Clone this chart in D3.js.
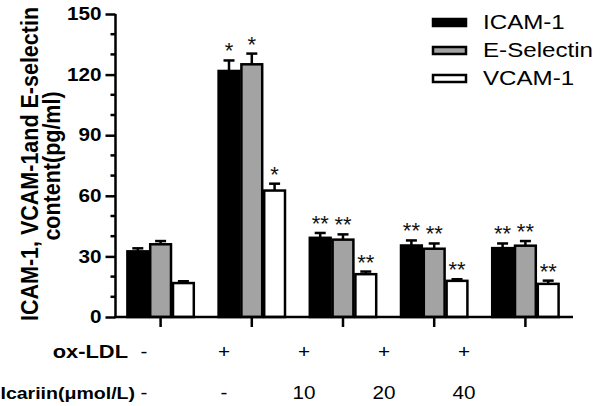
<!DOCTYPE html>
<html>
<head>
<meta charset="utf-8">
<script src="https://cdn.jsdelivr.net/npm/d3@7"></script>
<style>
  body { margin: 0; background: #fff; }
  svg { display: block; font-family: "Liberation Sans", Arial, sans-serif; }
</style>
</head>
<body>
<svg id="chart" width="600" height="406"></svg>
<script>
// values (pg/ml)
var groups = ["g1", "g2", "g3", "g4", "g5"];
var seriesNames = ["ICAM-1", "E-Selectin", "VCAM-1"];
var icam = [32.5, 121.8, 39.2, 35.4, 34.1];
var icamErr = [1.5, 5.2, 2.4, 2.5, 2.3];
var esel = [36.0, 125.1, 38.3, 33.8, 35.3];
var eselErr = [1.6, 5.3, 2.6, 2.6, 2.3];
var vcam = [16.8, 62.6, 21.2, 17.9, 16.4];
var vcamErr = [0.9, 3.4, 1.3, 0.8, 1.6];
var stars = ["", "*", "**", "**", "**"];
var oxLdl = ["-", "+", "+", "+", "+"];
var icariin = ["-", "-", "10", "20", "40"];
var yMajor = [0, 30, 60, 90, 120, 150];
var yMinor = [10, 20, 40, 50, 70, 80, 100, 110, 130, 140];

var fills = ["#000000", "#a3a3a3", "#ffffff"];
var stretch = 1.15; // the original is slightly wider than tall

var svg = d3.select("#chart");

var y = d3.scaleLinear().domain([0, 150]).range([317, 14]);
var x = d3.scaleBand().domain(groups).range([115, 571])
    .paddingInner(0.25).paddingOuter(0.125);
var xs = d3.scaleBand().domain(seriesNames).range([0, x.bandwidth()]);

var series = [
    {name: "ICAM-1", vals: icam, errs: icamErr},
    {name: "E-Selectin", vals: esel, errs: eselErr},
    {name: "VCAM-1", vals: vcam, errs: vcamErr}
];

// bars
series.forEach(function(s, si) {
    var g = svg.append("g").attr("class", "series" + si);
    var rows = groups.map(function(gr, i) {
        return {g: gr, v: s.vals[i], e: s.errs[i], star: stars[i]};
    });
    var cx = function(d) { return x(d.g) + xs(s.name) + xs.bandwidth() / 2; };

    g.selectAll("line.err").data(rows).enter().append("line")
        .attr("x1", cx).attr("x2", cx)
        .attr("y1", function(d) { return y(d.v); })
        .attr("y2", function(d) { return y(d.v + d.e); })
        .attr("stroke", "#000").attr("stroke-width", 2.5);
    g.selectAll("line.cap").data(rows).enter().append("line")
        .attr("x1", function(d) { return cx(d) - 5.5; })
        .attr("x2", function(d) { return cx(d) + 5.5; })
        .attr("y1", function(d) { return y(d.v + d.e); })
        .attr("y2", function(d) { return y(d.v + d.e); })
        .attr("stroke", "#000").attr("stroke-width", 2.5);

    g.selectAll("rect").data(rows).enter().append("rect")
        .attr("x", function(d) { return x(d.g) + xs(s.name) + 1; })
        .attr("width", xs.bandwidth() - 2)
        .attr("y", function(d) { return y(d.v); })
        .attr("height", function(d) { return y(0) - y(d.v); })
        .attr("fill", fills[si])
        .attr("stroke", "#000").attr("stroke-width", 2.5);

    g.selectAll("text").data(rows).enter().append("text")
        .attr("x", cx)
        .attr("y", function(d) { return y(d.v + d.e) - 2; })
        .attr("text-anchor", "middle")
        .attr("font-size", 22)
        .attr("fill", "#111")
        .text(function(d) { return d.star; });
});

// y axis
var yAxis = svg.append("g").attr("transform", "translate(115.5,0)")
    .call(d3.axisLeft(y).tickValues(yMajor).tickSize(10).tickPadding(4));
yAxis.select(".domain").attr("stroke-width", 2.5).attr("d", "M0," + y(150) + "V" + y(0));
yAxis.selectAll(".tick line").attr("stroke-width", 2.5);
yAxis.selectAll(".tick text")
    .attr("font-size", 18).attr("font-weight", "bold")
    .attr("font-family", "Liberation Sans, Arial, sans-serif")
    .attr("fill", "#000")
    .attr("x", null)
    .attr("transform", "translate(-14,0) scale(" + stretch + ",1)");
svg.append("g").selectAll("line").data(yMinor).enter().append("line")
    .attr("x1", 110.5).attr("x2", 115.5)
    .attr("y1", function(d) { return y(d); }).attr("y2", function(d) { return y(d); })
    .attr("stroke", "#000").attr("stroke-width", 2.5);

// x axis
svg.append("line").attr("x1", 114).attr("x2", 573)
    .attr("y1", y(0)).attr("y2", y(0))
    .attr("stroke", "#000").attr("stroke-width", 2.5);
svg.append("g").selectAll("line").data(groups).enter().append("line")
    .attr("x1", function(d) { return x(d) + x.bandwidth() / 2; })
    .attr("x2", function(d) { return x(d) + x.bandwidth() / 2; })
    .attr("y1", y(0)).attr("y2", y(0) + 10)
    .attr("stroke", "#000").attr("stroke-width", 2.5);

// y title
var ytitle = svg.append("g")
    .attr("font-weight", "bold").attr("font-size", 21.5).attr("text-anchor", "middle");
ytitle.append("text")
    .attr("transform", "translate(38,164) scale(" + stretch + ",1) rotate(-90)")
    .text("ICAM-1, VCAM-1and E-selectin");
ytitle.append("text")
    .attr("transform", "translate(60,166) scale(" + stretch + ",1) rotate(-90)")
    .text("content(pg/ml)");

// treatment rows under the axis
var col = d3.scalePoint().domain(groups).range([144, 464]);
function row(label, vals, baseline, labelRight, size) {
    svg.append("text")
        .attr("transform", "translate(" + labelRight + "," + baseline + ") scale(" + stretch + ",1)")
        .attr("text-anchor", "end").attr("font-weight", "bold").attr("font-size", size)
        .text(label);
    svg.append("g").selectAll("text").data(vals).enter().append("text")
        .attr("transform", function(d, i) {
            return "translate(" + col(groups[i]) + "," + baseline + ") scale(" + stretch + ",1)";
        })
        .attr("text-anchor", "middle").attr("font-size", 18)
        .text(function(d) { return d; });
}
row("ox-LDL", oxLdl, 358, 128, 19);
row("Icariin(\u03bcmol/L)", icariin, 399, 135, 17);

// legend
var legend = svg.append("g");
seriesNames.forEach(function(n, i) {
    legend.append("rect")
        .attr("x", 433).attr("y", 19 + i * 28)
        .attr("width", 33).attr("height", 7)
        .attr("fill", fills[i]).attr("stroke", "#000").attr("stroke-width", 2.5);
    legend.append("text")
        .attr("transform", "translate(483," + (29 + i * 28) + ") scale(" + stretch + ",1)")
        .attr("font-size", 21)
        .text(n);
});
</script>
</body>
</html>
